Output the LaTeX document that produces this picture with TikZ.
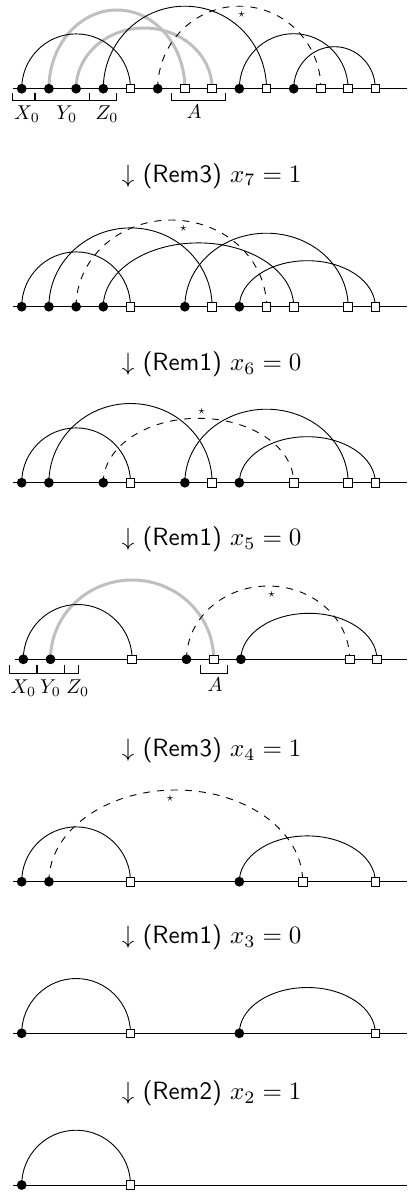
\documentclass[tikz,border=0pt]{standalone}
\usetikzlibrary{backgrounds,calc}
\tikzset{
  dot/.style={circle, fill=black, inner sep=0pt, minimum size=9.8pt},
  sq/.style={rectangle, draw=black, fill=white, inner sep=0pt, minimum size=8.5pt, line width=0.9pt},
  arcline/.style={line width=0.9pt},
  grayarc/.style={line width=3pt, black!25},
  dasharc/.style={line width=0.9pt, dash pattern=on 7pt off 7pt},
  axisline/.style={line width=0.9pt},
  steplabel/.style={scale=2.5, inner sep=0pt},
  brlabel/.style={scale=2.0, inner sep=0pt},
  starlabel/.style={scale=1.3, inner sep=0pt},
  bracket/.style={line width=0.8pt}
}
\newcommand\archarc[4]{\draw[#4] let \p1=(#1.center), \p2=(#2.center) in (\p1) arc[start angle=180, end angle=0, x radius={(\x2-\x1)/2}, y radius=#3pt];}
\begin{document}
\begin{tikzpicture}[x=1pt,y=-1pt]
\useasboundingbox (0,0) rectangle (407,1193);
% ---------- panel 1
\foreach \i/\s in {0/dot,1/dot,2/dot,3/dot,4/sq,5/dot,6/sq,7/sq,8/dot,9/sq,10/dot,11/sq,12/sq,13/sq}
  \node[\s] (a\i) at ({21.7+27.2*\i},88.7) {};
\coordinate (aL) at (13,88.7); \coordinate (aR) at (407,88.7);
\begin{scope}[on background layer]
  \draw[axisline] (aL) -- (aR);
  \archarc{a1}{a6}{78.7}{grayarc}
  \archarc{a2}{a7}{60.7}{grayarc}
  \archarc{a0}{a4}{54.8}{arcline}
  \archarc{a3}{a9}{82.5}{arcline}
  \archarc{a5}{a11}{82.5}{dasharc}
  \archarc{a8}{a12}{55}{arcline}
  \archarc{a10}{a13}{42}{arcline}
\end{scope}
\node[starlabel] (sa) at (241.7,14) {$\star$};
\draw[bracket] (12.3,93.3) -- (12.3,100.7) -- (34.6,100.7) -- (34.6,93.3);
\draw[bracket] (35.4,93.3) -- (35.4,100.7) -- (89.3,100.7) -- (89.3,93.3);
\draw[bracket] (89.3,100.7) -- (116.7,100.7) -- (116.7,93.3);
\draw[bracket] (171,93.3) -- (171,100.7) -- (225.3,100.7) -- (225.3,93.3);
\node[brlabel] (ax) at (27,114.5) {$X_0$};
\node[brlabel] (ay) at (66.7,114.5) {$Y_0$};
\node[brlabel] (az) at (107,114.5) {$Z_0$};
\node[brlabel] (aa) at (194.2,112) {$A$};
\node[steplabel] (t1) at (211.7,176) {$\downarrow$ \textsf{(Rem3)} $x_7 = 1$};
% ---------- panel 2
\foreach \i/\s in {0/dot,1/dot,2/dot,3/dot,4/sq,6/dot,7/sq,8/dot,9/sq,10/sq,12/sq,13/sq}
  \node[\s] (b\i) at ({21.7+27.2*\i},306.7) {};
\coordinate (bL) at (13,306.7); \coordinate (bR) at (407,306.7);
\begin{scope}[on background layer]
  \draw[axisline] (bL) -- (bR);
  \archarc{b0}{b4}{54.8}{arcline}
  \archarc{b1}{b7}{78.8}{arcline}
  \archarc{b2}{b9}{86.7}{dasharc}
  \archarc{b3}{b10}{63.8}{arcline}
  \archarc{b6}{b12}{73.5}{arcline}
  \archarc{b8}{b13}{46}{arcline}
\end{scope}
\node[starlabel] (sb) at (183.3,228.3) {$\star$};
\node[steplabel] (t2) at (211.7,364) {$\downarrow$ \textsf{(Rem1)} $x_6 = 0$};
% ---------- panel 3
\foreach \i/\s in {0/dot,1/dot,3/dot,4/sq,6/dot,7/sq,8/dot,10/sq,12/sq,13/sq}
  \node[\s] (c\i) at ({21.7+27.2*\i},482.7) {};
\coordinate (cL) at (13,482.7); \coordinate (cR) at (407,482.7);
\begin{scope}[on background layer]
  \draw[axisline] (cL) -- (cR);
  \archarc{c0}{c4}{54.8}{arcline}
  \archarc{c1}{c7}{79.2}{arcline}
  \archarc{c3}{c10}{64.4}{dasharc}
  \archarc{c6}{c12}{73.5}{arcline}
  \archarc{c8}{c13}{46}{arcline}
\end{scope}
\node[starlabel] (sc) at (201.7,411.7) {$\star$};
\node[steplabel] (t3) at (211.7,539) {$\downarrow$ \textsf{(Rem1)} $x_5 = 0$};
% ---------- panel 4
\foreach \i/\s in {0/dot,1/dot,4/sq,6/dot,7/sq,8/dot,12/sq,13/sq}
  \node[\s] (d\i) at ({23.3+27.2*\i},659.3) {};
\coordinate (dL) at (15,659.3); \coordinate (dR) at (407,659.3);
\begin{scope}[on background layer]
  \draw[axisline] (dL) -- (dR);
  \archarc{d1}{d7}{79.3}{grayarc}
  \archarc{d0}{d4}{54.8}{arcline}
  \archarc{d6}{d12}{73.3}{dasharc}
  \archarc{d8}{d13}{46}{arcline}
\end{scope}
\node[starlabel] (sd) at (271.7,594.3) {$\star$};
\draw[bracket] (9.3,665) -- (9.3,673.3) -- (36.3,673.3) -- (36.3,665);
\draw[bracket] (37.1,665) -- (37.1,673.3) -- (64,673.3) -- (64,665);
\draw[bracket] (64,673.3) -- (78.3,673.3) -- (78.3,665);
\draw[bracket] (200.3,665) -- (200.3,673.3) -- (227.7,673.3) -- (227.7,665);
\node[brlabel] (dx) at (23.3,688) {$X_0$};
\node[brlabel] (dy) at (50.5,688) {$Y_0$};
\node[brlabel] (dz) at (77.8,688) {$Z_0$};
\node[brlabel] (da) at (215,684.5) {$A$};
\node[steplabel] (t4) at (211.7,750.5) {$\downarrow$ \textsf{(Rem3)} $x_4 = 1$};
% ---------- panel 5
\foreach \i/\s in {0/dot,1/dot,4/sq,8/dot,13/sq}
  \node[\s] (e\i) at ({21.7+27.2*\i},881.7) {};
\node[sq] (ex) at (302.7,881.7) {};
\coordinate (eL) at (13,881.7); \coordinate (eR) at (407,881.7);
\begin{scope}[on background layer]
  \draw[axisline] (eL) -- (eR);
  \archarc{e0}{e4}{54.8}{arcline}
  \archarc{e1}{ex}{91.7}{dasharc}
  \archarc{e8}{e13}{45.8}{arcline}
\end{scope}
\node[starlabel] (se) at (170,798.3) {$\star$};
\node[steplabel] (t5) at (211.7,937) {$\downarrow$ \textsf{(Rem1)} $x_3 = 0$};
% ---------- panel 6
\foreach \i/\s in {0/dot,4/sq,8/dot,13/sq}
  \node[\s] (f\i) at ({21.7+27.2*\i},1033.3) {};
\coordinate (fL) at (13,1033.3); \coordinate (fR) at (407,1033.3);
\begin{scope}[on background layer]
  \draw[axisline] (fL) -- (fR);
  \archarc{f0}{f4}{54.8}{arcline}
  \archarc{f8}{f13}{45.8}{arcline}
\end{scope}
\node[steplabel] (t6) at (211.7,1093) {$\downarrow$ \textsf{(Rem2)} $x_2 = 1$};
% ---------- panel 7
\foreach \i/\s in {0/dot,4/sq}
  \node[\s] (g\i) at ({21.7+27.2*\i},1185) {};
\coordinate (gL) at (13,1185); \coordinate (gR) at (407,1185);
\begin{scope}[on background layer]
  \draw[axisline] (gL) -- (gR);
  \archarc{g0}{g4}{54.8}{arcline}
\end{scope}
\end{tikzpicture}
\end{document}
